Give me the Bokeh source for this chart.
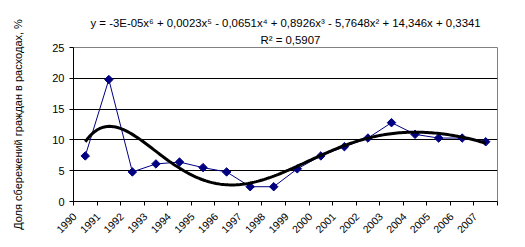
import numpy as np
from bokeh.plotting import figure
from bokeh.models import Range1d, FixedTicker, Title, ColumnDataSource
from bokeh.embed import file_html
from bokeh.resources import INLINE

years = [str(y) for y in range(1990, 2008)]
savings = [7.4, 19.8, 4.8, 6.1, 6.4, 5.5, 4.8, 2.4, 2.4, 5.3, 7.4, 8.9,
           10.3, 12.8, 10.9, 10.3, 10.3, 9.7]
y_ticks = [0, 5, 10, 15, 20, 25]
equation = "y = -3E-05x\u2076 + 0,0023x\u2075 - 0,0651x\u2074 + 0,8926x\u00b3 - 5,7648x\u00b2 + 14,346x + 0,3341"
r2_text = "R\u00b2 = 0,5907"
y_title = "Доля сбережений граждан в расходах, %"

xs = np.arange(1, len(years) + 1)
coef = np.polyfit(xs, savings, 6)
xt = np.linspace(1, len(years), 200)
yt = np.polyval(coef, xt)

FONT = "Liberation Sans"

p = figure(width=525, height=247, output_backend="svg", toolbar_location=None,
           x_range=Range1d(0.5, len(years) + 0.5), y_range=Range1d(0, 25),
           min_border_left=73, min_border_right=28, min_border_top=47,
           min_border_bottom=46)
p.background_fill_color = "white"
p.border_fill_color = "white"
p.outline_line_color = "#808080"
p.outline_line_width = 1

p.xgrid.grid_line_color = None
p.ygrid.grid_line_color = "black"
p.ygrid.grid_line_width = 1
p.ygrid.ticker = FixedTicker(ticks=y_ticks)

# x axis
label_pos = [i - 0.45 for i in xs]
p.xaxis.ticker = FixedTicker(ticks=label_pos,
                             minor_ticks=[i + 0.5 for i in range(0, len(years) + 1)])
p.xaxis.major_label_overrides = {lp: y for lp, y in zip(label_pos, years)}
p.xaxis.major_label_orientation = np.pi / 4
p.xaxis.major_tick_line_color = None
p.xaxis.minor_tick_line_color = "black"
p.xaxis.minor_tick_out = 4
p.xaxis.minor_tick_in = 0
p.xaxis.axis_line_color = "black"
p.xaxis.major_label_text_font = FONT
p.xaxis.major_label_text_font_size = "10.5px"
p.xaxis.major_label_text_color = "black"
p.xaxis.major_label_standoff = 7

# y axis
p.yaxis.ticker = FixedTicker(ticks=y_ticks)
p.yaxis.minor_tick_line_color = None
p.yaxis.major_tick_out = 4
p.yaxis.major_tick_in = 0
p.yaxis.axis_line_color = "black"
p.yaxis.major_tick_line_color = "black"
p.yaxis.major_label_text_font = FONT
p.yaxis.major_label_text_font_size = "11px"
p.yaxis.major_label_text_color = "black"
p.yaxis.major_label_standoff = 5
p.yaxis.axis_label = y_title
p.yaxis.axis_label_text_font = FONT
p.yaxis.axis_label_text_font_size = "11px"
p.yaxis.axis_label_text_font_style = "normal"
p.yaxis.axis_label_text_color = "black"
p.yaxis.axis_label_standoff = 25

src = ColumnDataSource(dict(x=xs, y=savings))
p.line("x", "y", source=src, line_color="#000080", line_width=1)
p.scatter("x", "y", source=src, marker="square", size=6, angle=np.pi / 4,
          fill_color="#000080", line_color="#000080")
p.line(xt, yt, line_color="black", line_width=3)

p.add_layout(Title(text=r2_text, align="left", offset=187, standoff=4,
                   text_font=FONT, text_font_size="11.4px",
                   text_font_style="normal", text_color="black"), "above")
p.add_layout(Title(text=equation, align="left", offset=17, standoff=2,
                   text_font=FONT, text_font_size="11.4px",
                   text_font_style="normal", text_color="black"), "above")

open("out.html", "w").write(file_html(p, INLINE))
